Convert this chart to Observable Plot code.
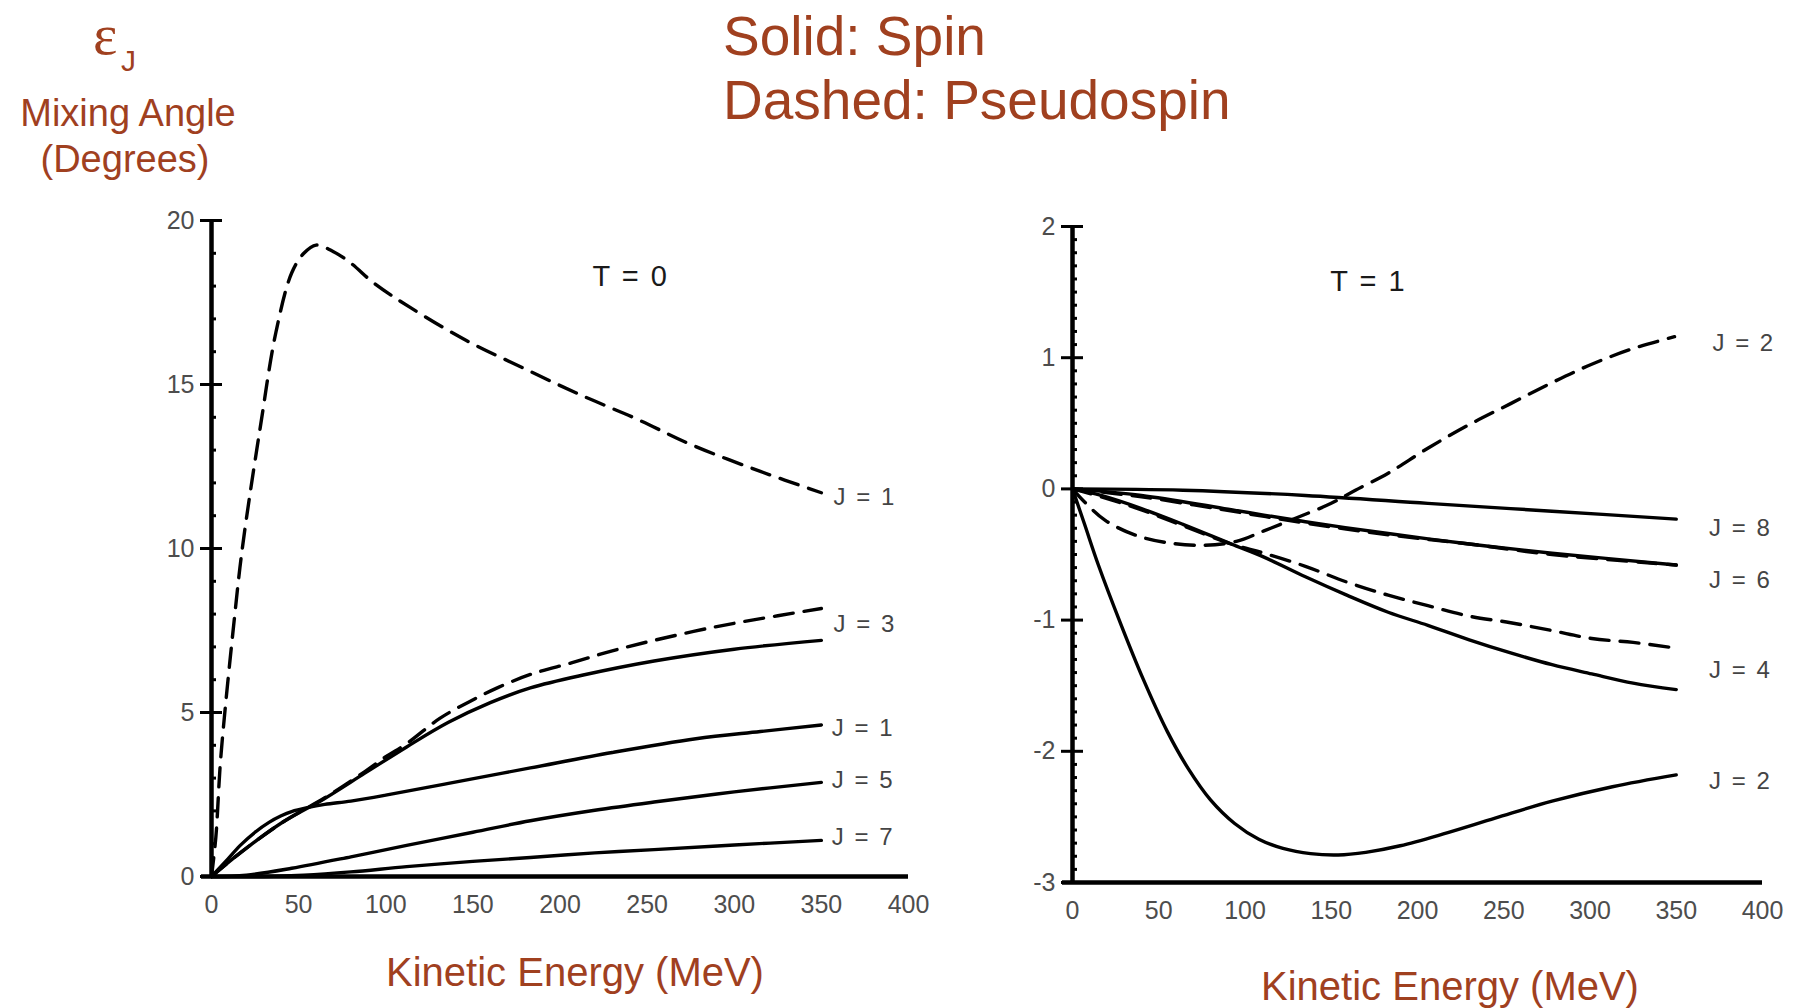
<!DOCTYPE html>
<html>
<head>
<meta charset="utf-8">
<script src="https://cdn.jsdelivr.net/npm/d3@7"></script>
<script src="https://cdn.jsdelivr.net/npm/@observablehq/plot@0.6"></script>
<style>
  html, body { margin: 0; padding: 0; background: #fff; }
  #stage { position: relative; width: 1793px; height: 1008px; overflow: hidden; background: #fff; font-family: "Liberation Sans", Arial, sans-serif; }
  .brown { position: absolute; color: #a0401f; white-space: nowrap; line-height: 1; }
  .panel { position: absolute; }
  .panel svg { overflow: visible; }
</style>
</head>
<body>
<div id="stage">
  <div class="brown" style="left:723px; top:9px; font-size:55px;">Solid: Spin</div>
  <div class="brown" style="left:723px; top:73px; font-size:55px;">Dashed: Pseudospin</div>
  <div class="brown" style="left:93px; top:0px; font-size:58px; line-height:1.2; font-family:'Liberation Serif', serif;">ε</div>
  <div class="brown" style="left:121px; top:46px; font-size:30px;">J</div>
  <div class="brown" style="left:0px; width:256px; text-align:center; top:94px; font-size:38px;">Mixing Angle</div>
  <div class="brown" style="left:0px; width:250px; text-align:center; top:140px; font-size:38px;">(Degrees)</div>
  <div class="brown" style="left:375px; width:400px; text-align:center; top:952px; font-size:40px;">Kinetic Energy (MeV)</div>
  <div class="brown" style="left:1250px; width:400px; text-align:center; top:966px; font-size:40px;">Kinetic Energy (MeV)</div>
  <div class="panel" id="left" style="left:100px; top:180px;"></div>
  <div class="panel" id="right" style="left:960px; top:180px;"></div>
</div>
<script>
// ---------- axis ticks ----------
const xTicks = [0, 50, 100, 150, 200, 250, 300, 350, 400];
const t0MajorTicks = [0, 5, 10, 15, 20];
const t1MajorTicks = [-3, -2, -1, 0, 1, 2];

// ---------- T = 0 (left panel) ----------
// Solid (spin)
const t0SpinJ1E = [0, 8, 16.5, 25, 33, 40, 46, 55, 65, 80, 100, 136, 183, 230, 278, 315, 350];
const t0SpinJ1 = [0, 0.45, 0.95, 1.35, 1.65, 1.85, 1.98, 2.1, 2.2, 2.3, 2.48, 2.84, 3.31, 3.78, 4.2, 4.42, 4.62];
const t0SpinJ3E = [0, 16.5, 41, 65, 88, 112, 136, 160, 183, 214, 254, 300, 350];
const t0SpinJ3 = [0, 0.72, 1.66, 2.38, 3.15, 3.95, 4.7, 5.3, 5.75, 6.15, 6.57, 6.93, 7.2];
const t0SpinJ5E = [0, 20, 46, 80, 112, 150, 183, 220, 254, 300, 350];
const t0SpinJ5 = [0, 0.04, 0.25, 0.6, 0.95, 1.35, 1.7, 2.02, 2.27, 2.58, 2.87];
const t0SpinJ7E = [0, 30, 53, 80, 112, 150, 183, 220, 254, 300, 350];
const t0SpinJ7 = [0, 0, 0.04, 0.14, 0.3, 0.46, 0.58, 0.72, 0.82, 0.96, 1.1];
// Dashed (pseudospin)
const t0PseudoJ1E = [0, 2.5, 5, 8, 13, 16.5, 20, 28, 37, 46, 53, 60, 70, 80, 93, 114, 146, 179, 211, 244, 276, 315, 350];
const t0PseudoJ1 = [0, 1.2, 3.4, 5.2, 7.8, 9.5, 10.9, 13.7, 16.6, 18.4, 19.0, 19.25, 19.05, 18.7, 18.1, 17.35, 16.35, 15.5, 14.7, 13.95, 13.15, 12.35, 11.7];
const t0PseudoJ3E = [0, 16.5, 41, 65, 88, 100, 112, 131, 148, 164, 183, 207, 230, 254, 290, 325, 350];
const t0PseudoJ3 = [0, 0.72, 1.66, 2.4, 3.2, 3.65, 4.05, 4.82, 5.33, 5.75, 6.16, 6.52, 6.88, 7.2, 7.62, 7.95, 8.17];

const t0LabelText = ["J = 1", "J = 3", "J = 1", "J = 5", "J = 7"];
const t0LabelE = [357, 357, 356, 356, 356];
const t0LabelY = [11.55, 7.69, 4.52, 2.92, 1.18];

// ---------- T = 1 (right panel) ----------
const t1SpinJ2E = [0, 7, 15, 28, 41, 55, 67, 80, 94, 108, 122, 138, 154, 170, 190, 215, 245, 278, 313, 350];
const t1SpinJ2 = [0, -0.27, -0.58, -1.03, -1.45, -1.85, -2.13, -2.37, -2.55, -2.67, -2.74, -2.78, -2.79, -2.77, -2.72, -2.63, -2.51, -2.38, -2.27, -2.18];
const t1SpinJ4E = [0, 16.6, 40, 64, 92, 111, 135, 159, 183, 206, 230, 254, 278, 301, 325, 350];
const t1SpinJ4 = [0, -0.05, -0.15, -0.27, -0.42, -0.52, -0.67, -0.81, -0.94, -1.04, -1.15, -1.25, -1.34, -1.41, -1.48, -1.53];
const t1SpinJ6E = [0, 40, 88, 135, 183, 230, 278, 350];
const t1SpinJ6 = [0, -0.05, -0.15, -0.25, -0.34, -0.42, -0.49, -0.58];
const t1SpinJ8E = [0, 64, 135, 206, 278, 350];
const t1SpinJ8 = [0, -0.01, -0.05, -0.11, -0.17, -0.23];
const t1PseudoJ2E = [0, 7, 19, 36, 55, 76, 95, 111, 130, 150, 164, 183, 206, 230, 254, 278, 301, 325, 349];
const t1PseudoJ2 = [0, -0.1, -0.24, -0.35, -0.41, -0.43, -0.4, -0.32, -0.22, -0.11, -0.01, 0.12, 0.31, 0.49, 0.65, 0.81, 0.95, 1.07, 1.16];
const t1PseudoJ4E = [0, 16.6, 40, 64, 92, 111, 135, 159, 183, 206, 230, 254, 278, 301, 325, 348];
const t1PseudoJ4 = [0, -0.06, -0.16, -0.28, -0.42, -0.49, -0.59, -0.71, -0.81, -0.89, -0.97, -1.02, -1.08, -1.14, -1.17, -1.21];
const t1PseudoJ6E = [0, 40, 88, 135, 183, 230, 278, 350];
const t1PseudoJ6 = [0, -0.06, -0.16, -0.26, -0.35, -0.42, -0.5, -0.58];

const t1LabelText = ["J = 2", "J = 8", "J = 6", "J = 4", "J = 2"];
const t1LabelE = [371, 369, 369, 369, 369];
const t1LabelY = [1.11, -0.30, -0.70, -1.38, -2.23];

// ---------- helpers ----------
function rows(key, es, vs) { return es.map((e, i) => ({key, e, v: vs[i]})); }
function labelRows(texts, es, ys) { return texts.map((t, i) => ({t, e: es[i], v: ys[i]})); }

function panel({width, height, marginLeft, marginRight, marginTop, marginBottom, yDomain, majors, minors, solid, dashed, labels, title}) {
  const ink = "#000";
  const tickInk = "#4d4d4d";
  const fmt = d => String(d);
  const svg = Plot.plot({
    width, height, marginLeft, marginRight, marginTop, marginBottom,
    x: {domain: [0, 400]},
    y: {domain: yDomain},
    style: {fontFamily: "'Liberation Sans', Arial, sans-serif", fontSize: "25px", color: tickInk, background: "transparent", overflow: "visible"},
    marks: [
      Plot.line(solid, {x: "e", y: "v", z: "key", stroke: ink, strokeWidth: 3.4, curve: "catmull-rom"}),
      Plot.line(dashed, {x: "e", y: "v", z: "key", stroke: ink, strokeWidth: 3.4, strokeDasharray: "19,11", curve: "catmull-rom"}),
      Plot.ruleY([yDomain[0]], {stroke: ink, strokeWidth: 4.5, insetLeft: -10}),
      Plot.ruleX([0], {y1: yDomain[0], y2: yDomain[1], stroke: ink, strokeWidth: 4.5}),
      Plot.axisY(majors, {tickSize: 11, tickPadding: 6, stroke: ink, strokeWidth: 3, fill: tickInk, tickFormat: fmt, label: null}),
      Plot.axisY(majors, {tickSize: 11, dx: 11, stroke: ink, strokeWidth: 3, tickFormat: () => "", label: null}),
      Plot.axisY(minors, {tickSize: 5, dx: 5, stroke: ink, strokeWidth: 3, tickFormat: () => "", label: null}),
      Plot.axisX(xTicks, {tickSize: 0, tickPadding: 19, fill: tickInk, tickFormat: fmt, label: null}),
      Plot.text(labels, {x: "e", y: "v", text: "t", textAnchor: "start", fontSize: 24, fill: "#444"}),
      Plot.text([title], {x: "e", y: "v", text: "t", fontSize: 29, fill: "#1a1a1a"})
    ]
  });
  d3.select(svg).selectAll("text").style("word-spacing", "4px");
  return svg;
}

const t0Minor = d3.range(0, 21).filter(d => d % 5 !== 0);
const t1Minor = d3.range(-30, 21).filter(d => d % 10 !== 0).map(d => d / 10);

document.getElementById("left").appendChild(panel({
  width: 848, height: 756, marginLeft: 111, marginRight: 40, marginTop: 40, marginBottom: 60,
  yDomain: [0, 20], majors: t0MajorTicks, minors: t0Minor,
  solid: [
    ...rows("J1", t0SpinJ1E, t0SpinJ1), ...rows("J3", t0SpinJ3E, t0SpinJ3),
    ...rows("J5", t0SpinJ5E, t0SpinJ5), ...rows("J7", t0SpinJ7E, t0SpinJ7)
  ],
  dashed: [...rows("J1", t0PseudoJ1E, t0PseudoJ1), ...rows("J3", t0PseudoJ3E, t0PseudoJ3)],
  labels: labelRows(t0LabelText, t0LabelE, t0LabelY),
  title: {t: "T = 0", e: 240, v: 18.3}
}));

document.getElementById("right").appendChild(panel({
  width: 827, height: 762, marginLeft: 112, marginRight: 25, marginTop: 46, marginBottom: 60,
  yDomain: [-3, 2], majors: t1MajorTicks, minors: t1Minor,
  solid: [
    ...rows("J2", t1SpinJ2E, t1SpinJ2), ...rows("J4", t1SpinJ4E, t1SpinJ4),
    ...rows("J6", t1SpinJ6E, t1SpinJ6), ...rows("J8", t1SpinJ8E, t1SpinJ8)
  ],
  dashed: [
    ...rows("J2", t1PseudoJ2E, t1PseudoJ2), ...rows("J4", t1PseudoJ4E, t1PseudoJ4),
    ...rows("J6", t1PseudoJ6E, t1PseudoJ6)
  ],
  labels: labelRows(t1LabelText, t1LabelE, t1LabelY),
  title: {t: "T = 1", e: 171, v: 1.58}
}));
</script>
</body>
</html>
